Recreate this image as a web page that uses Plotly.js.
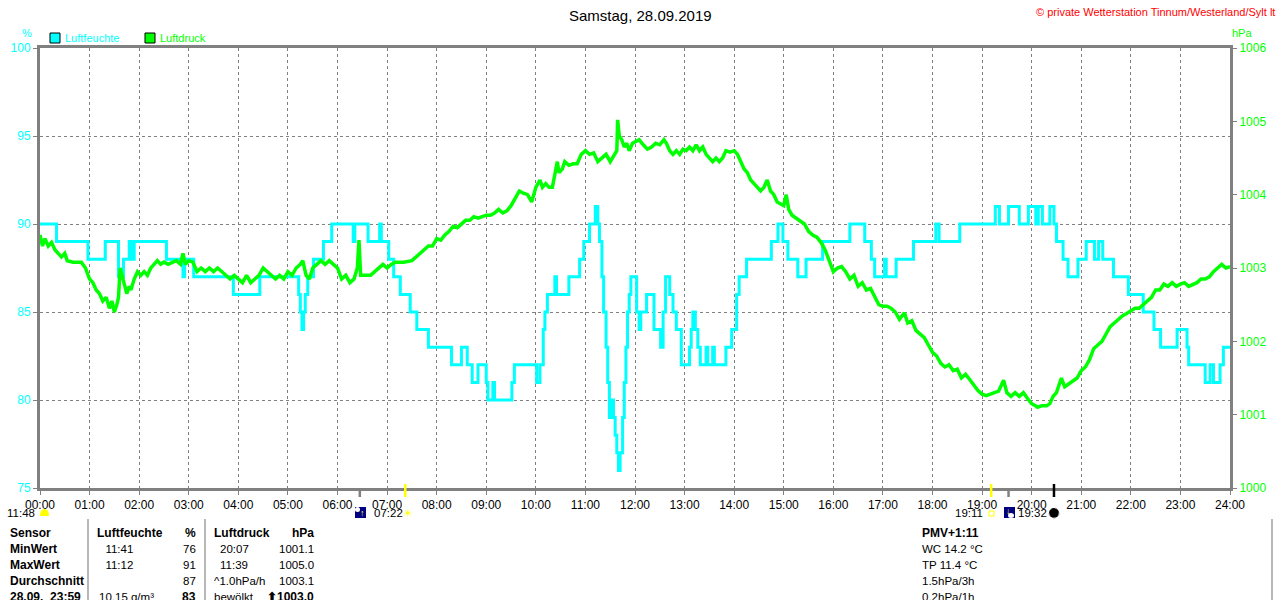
<!DOCTYPE html>
<html>
<head>
<meta charset="utf-8">
<script src="https://cdn.plot.ly/plotly-3.0.1.min.js"></script>
<style>
  html, body { margin: 0; padding: 0; background: #fff; }
  #chart { width: 1280px; height: 600px; }
</style>
</head>
<body>
<div id="chart"></div>
<script>
// ── Tagesgang Luftfeuchte / Luftdruck, Samstag 28.09.2019 ──

const xTickLabels = ['00:00','01:00','02:00','03:00','04:00','05:00','06:00','07:00','08:00',
    '09:00','10:00','11:00','12:00','13:00','14:00','15:00','16:00','17:00','18:00',
    '19:00','20:00','21:00','22:00','23:00','24:00'];
const humTicks = [75, 80, 85, 90, 95, 100];
const pressTicks = [1000, 1001, 1002, 1003, 1004, 1005, 1006];

// Luftfeuchte (%), Stufenwerte: Zeit = Beginn der Stufe
const humTimes = ['00:00','00:20','00:58','01:19','01:35','01:41','01:48','01:51','01:54','02:01',
    '02:33','02:53','02:55','03:06','03:54','04:26','05:13','05:15','05:17','05:19','05:21','05:24',
    '05:31','05:43','05:53','06:19','06:21','06:37','06:51','06:53','07:02','07:08','07:16','07:28',
    '07:36','07:50','08:18','08:30','08:37','08:43','08:50','09:00','09:02','09:08','09:10','09:31',
    '09:34','10:01','10:05','10:09','10:11','10:14','10:23','10:25','10:40','10:53','10:58','11:05',
    '11:12','11:15','11:17','11:20','11:22','11:25','11:27','11:29','11:31','11:34','11:36','11:38',
    '11:40','11:42','11:45','11:47','11:49','11:51','11:53','11:55','12:02','12:05','12:07','12:14',
    '12:23','12:31','12:34','12:37','12:42','12:46','12:50','12:56','13:06','13:08','13:10','13:13',
    '13:16','13:19','13:26','13:28','13:34','13:36','13:50','13:57','14:03','14:06','14:15','14:45',
    '14:53','14:59','15:05','15:17','15:27','15:47','16:20','16:38','16:46','16:50','17:02','17:04',
    '17:16','17:37','18:04','18:08','18:33','19:16','19:21','19:32','19:45','19:56','20:05','20:08',
    '20:13','20:22','20:27','20:30','20:38','20:44','20:56','21:06','21:16','21:21','21:26','21:39',
    '21:57','22:15','22:28','22:36','22:56','23:08','23:10','23:30','23:36','23:40','23:48','23:52',
    '24:00'];
const humVals = [90, 89, 88, 89, 87, 88, 89, 88, 89, 89,
    88, 87, 88, 87, 86, 87, 86, 85, 84, 85, 86, 87,
    88, 89, 90, 89, 90, 89, 90, 89, 88, 87, 86, 85,
    84, 83, 82, 83, 82, 81, 82, 81, 80, 81, 80, 81,
    82, 81, 82, 84, 85, 86, 87, 86, 87, 88, 89, 90,
    91, 90, 89, 87, 85, 83, 81, 79, 80, 79, 78, 77,
    76, 77, 79, 81, 83, 85, 86, 87, 85, 84, 85, 86,
    84, 83, 85, 87, 86, 85, 84, 82, 83, 84, 85, 84,
    83, 82, 83, 82, 83, 82, 83, 84, 86, 87, 88, 89,
    90, 89, 88, 87, 88, 89, 90, 89, 88, 87, 88, 87,
    88, 89, 90, 89, 90, 91, 90, 91, 90, 91, 90, 91,
    90, 91, 90, 89, 88, 87, 88, 89, 88, 89, 88, 87,
    86, 85, 84, 83, 84, 83, 82, 81, 82, 81, 82, 83,
    83];

// Luftdruck (hPa)
const pressTimes = ['00:00','00:03','00:06','00:10','00:14','00:18','00:22','00:26','00:30','00:33',
    '00:40','00:50','00:55','01:00','01:04','01:08','01:12','01:16','01:20','01:24','01:27','01:30',
    '01:33','01:35','01:37','01:39','01:42','01:45','01:48','01:50','01:54','01:58','02:02','02:06',
    '02:10','02:14','02:18','02:22','02:26','02:30','02:35','02:40','02:45','02:50','02:53','02:56',
    '03:00','03:05','03:10','03:15','03:20','03:25','03:30','03:35','03:40','03:45','03:50','03:55',
    '04:00','04:05','04:10','04:15','04:20','04:25','04:30','04:35','04:40','04:45','04:50','04:55',
    '05:00','05:05','05:10','05:15','05:18','05:22','05:26','05:30','05:35','05:40','05:45','05:50',
    '05:55','06:00','06:05','06:10','06:15','06:20','06:24','06:26','06:28','06:35','06:40','06:45',
    '06:50','06:55','07:00','07:05','07:10','07:20','07:30','07:35','07:40','07:45','07:50','07:55',
    '08:00','08:05','08:10','08:15','08:20','08:25','08:30','08:35','08:40','08:45','08:50','08:55',
    '09:00','09:05','09:10','09:15','09:20','09:25','09:30','09:35','09:40','09:45','09:50','09:55',
    '10:00','10:05','10:08','10:12','10:16','10:20','10:24','10:26','10:28','10:32','10:35','10:40',
    '10:45','10:50','10:55','11:00','11:05','11:10','11:15','11:20','11:25','11:30','11:35','11:38',
    '11:39','11:41','11:44','11:47','11:50','11:53','11:57','12:00','12:05','12:10','12:15','12:20',
    '12:25','12:30','12:35','12:38','12:42','12:46','12:50','12:54','12:58','13:02','13:06','13:10',
    '13:14','13:18','13:22','13:26','13:30','13:34','13:38','13:42','13:46','13:50','13:55','14:00',
    '14:04','14:08','14:12','14:16','14:20','14:24','14:28','14:32','14:36','14:40','14:44','14:48',
    '14:52','14:56','15:00','15:03','15:06','15:10','15:15','15:20','15:25','15:30','15:35','15:40',
    '15:45','15:50','15:55','16:00','16:05','16:10','16:15','16:20','16:25','16:30','16:35','16:40',
    '16:45','16:50','16:55','17:00','17:05','17:10','17:15','17:20','17:26','17:30','17:35','17:40',
    '17:45','17:50','17:55','18:00','18:05','18:10','18:15','18:20','18:25','18:30','18:35','18:40',
    '18:45','18:50','18:55','19:00','19:05','19:10','19:15','19:20','19:26','19:30','19:35','19:40',
    '19:45','19:50','19:55','20:00','20:05','20:07','20:12','20:18','20:22','20:26','20:30','20:36',
    '20:40','20:45','20:50','20:55','21:00','21:05','21:10','21:15','21:20','21:25','21:30','21:35',
    '21:40','21:45','21:50','21:55','22:00','22:05','22:10','22:15','22:20','22:25','22:30','22:35',
    '22:40','22:45','22:50','22:55','23:00','23:05','23:10','23:15','23:20','23:25','23:30','23:35',
    '23:40','23:45','23:50','23:55','24:00'];
const pressVals = [1003.45, 1003.30, 1003.40, 1003.30, 1003.35, 1003.25, 1003.20, 1003.15, 1003.20, 1003.10,
    1003.08, 1003.08, 1003.00, 1002.85, 1002.80, 1002.70, 1002.65, 1002.55, 1002.60, 1002.45, 1002.55, 1002.40,
    1002.50, 1002.60, 1003.00, 1002.90, 1002.80, 1002.65, 1002.75, 1002.70, 1002.85, 1002.95, 1002.90, 1002.95,
    1002.90, 1003.00, 1003.05, 1003.10, 1003.05, 1003.08, 1003.05, 1003.08, 1003.10, 1003.05, 1003.20, 1003.05,
    1003.10, 1003.08, 1002.95, 1003.00, 1002.95, 1003.00, 1002.95, 1003.00, 1002.95, 1002.90, 1002.85, 1002.90,
    1002.85, 1002.80, 1002.90, 1002.80, 1002.85, 1002.90, 1003.00, 1002.95, 1002.90, 1002.85, 1002.90, 1002.85,
    1002.95, 1002.90, 1003.00, 1003.05, 1003.10, 1002.90, 1002.85, 1003.00, 1003.05, 1003.10, 1003.05, 1003.10,
    1003.05, 1003.00, 1002.85, 1002.90, 1002.80, 1002.85, 1003.00, 1003.38, 1002.90, 1002.90, 1002.90, 1002.95,
    1003.00, 1003.05, 1003.00, 1003.05, 1003.08, 1003.08, 1003.10, 1003.15, 1003.20, 1003.25, 1003.30, 1003.30,
    1003.40, 1003.38, 1003.45, 1003.50, 1003.57, 1003.55, 1003.60, 1003.65, 1003.65, 1003.70, 1003.68, 1003.70,
    1003.72, 1003.72, 1003.75, 1003.80, 1003.75, 1003.78, 1003.85, 1003.95, 1004.05, 1004.02, 1004.00, 1003.90,
    1004.10, 1004.20, 1004.10, 1004.15, 1004.10, 1004.10, 1004.30, 1004.45, 1004.30, 1004.35, 1004.45, 1004.40,
    1004.42, 1004.42, 1004.55, 1004.60, 1004.55, 1004.57, 1004.45, 1004.50, 1004.55, 1004.45, 1004.55, 1004.60,
    1005.02, 1004.80, 1004.75, 1004.65, 1004.70, 1004.60, 1004.70, 1004.72, 1004.75, 1004.68, 1004.62, 1004.65,
    1004.70, 1004.68, 1004.75, 1004.70, 1004.60, 1004.55, 1004.60, 1004.55, 1004.62, 1004.60, 1004.65, 1004.60,
    1004.68, 1004.60, 1004.65, 1004.55, 1004.50, 1004.45, 1004.50, 1004.45, 1004.50, 1004.60, 1004.58, 1004.60,
    1004.55, 1004.45, 1004.35, 1004.30, 1004.20, 1004.15, 1004.10, 1004.05, 1004.10, 1004.20, 1004.05, 1004.00,
    1003.90, 1003.88, 1003.85, 1004.00, 1003.80, 1003.72, 1003.68, 1003.65, 1003.60, 1003.50, 1003.45, 1003.42,
    1003.35, 1003.25, 1003.10, 1002.95, 1003.00, 1003.02, 1002.95, 1002.85, 1002.90, 1002.75, 1002.80, 1002.70,
    1002.72, 1002.60, 1002.50, 1002.48, 1002.48, 1002.45, 1002.40, 1002.30, 1002.39, 1002.25, 1002.28, 1002.15,
    1002.10, 1002.05, 1001.95, 1001.85, 1001.80, 1001.70, 1001.65, 1001.68, 1001.60, 1001.62, 1001.50, 1001.55,
    1001.48, 1001.40, 1001.33, 1001.28, 1001.26, 1001.28, 1001.30, 1001.32, 1001.47, 1001.30, 1001.25, 1001.30,
    1001.25, 1001.30, 1001.22, 1001.15, 1001.12, 1001.10, 1001.12, 1001.12, 1001.15, 1001.25, 1001.30, 1001.50,
    1001.38, 1001.42, 1001.45, 1001.50, 1001.60, 1001.65, 1001.75, 1001.90, 1001.95, 1002.00, 1002.10, 1002.20,
    1002.25, 1002.30, 1002.35, 1002.38, 1002.42, 1002.45, 1002.45, 1002.50, 1002.55, 1002.60, 1002.70, 1002.70,
    1002.78, 1002.75, 1002.80, 1002.75, 1002.78, 1002.80, 1002.75, 1002.78, 1002.80, 1002.85, 1002.85, 1002.88,
    1002.95, 1003.00, 1003.05, 1003.00, 1003.02];

// Sonnen-/Mondereignisse (Dämmerung, Aufgang, Untergang, Dämmerung, Mond)
const eventTimes = ['06:27', '07:22', '19:11', '19:32', '20:27'];

// Tabellen-Spalten unter dem Diagramm
const tableLabels = ['Sensor', 'MinWert', 'MaxWert', 'Durchschnitt', '28.09.  23:59'];
const humTimeCol  = ['Luftfeuchte', '11:41', '11:12', '', '10.15 g/m³'];
const humValCol   = ['%', '76', '91', '87', '83'];
const pressTimeCol = ['Luftdruck', '20:07', '11:39', '^1.0hPa/h', 'bewölkt'];
const pressValCol  = ['hPa', '1001.1', '1005.0', '1003.1', '⬆1003.0'];
const extraCol     = ['PMV+1:11', 'WC 14.2 °C', 'TP 11.4 °C', '1.5hPa/3h', '0.2hPa/1h'];

// ── helpers ──
const toH = s => { const [h, m] = s.split(':').map(Number); return h + m / 60; };
const PL = 40, PR = 1230, PT = 48, PB = 488;
const px = x => (x - PL) / (PR - PL);     // pixel → paper
const py = y => (PB - y) / (PB - PT);
const FONT = 'Liberation Sans, Arial, sans-serif';
const GRAY = '#808080';
const CYAN = '#00FFFF', GREEN = '#00FF00';

const annotations = [];
const shapes = [];
function txt(x, y, text, opts = {}) {
    annotations.push({
        xref: 'paper', yref: 'paper', x: px(x), y: py(y), text, showarrow: false,
        xanchor: opts.anchor || 'left', yanchor: 'middle',
        font: { family: FONT, size: opts.size || 11.5, color: opts.color || '#000' }
    });
}

// Titel & Copyright
txt(640, 15, 'Samstag, 28.09.2019', { anchor: 'center', size: 15 });
txt(1277, 12, '© private Wetterstation Tinnum/Westerland/Sylt lt', { anchor: 'right', size: 11, color: '#FF0000' });
// Achseneinheiten
txt(27, 33, '%', { anchor: 'center', size: 11, color: CYAN });
txt(1230, 33, 'hPa', { size: 11, color: GREEN });
// Legende
shapes.push({ type: 'rect', xref: 'paper', yref: 'paper', x0: px(50), x1: px(60), y0: py(43), y1: py(33),
    fillcolor: CYAN, line: { color: '#000', width: 1 } });
txt(63, 38, 'Luftfeuchte', { size: 11, color: CYAN });
shapes.push({ type: 'rect', xref: 'paper', yref: 'paper', x0: px(145), x1: px(155), y0: py(43), y1: py(33),
    fillcolor: GREEN, line: { color: '#000', width: 1 } });
txt(158, 38, 'Luftdruck', { size: 11, color: GREEN });

// Ereignis-Striche unter der x-Achse
const eventColors = [GRAY, '#FFFF00', '#FFFF00', GRAY, '#000000'];
const eventTop = [488, 484, 484, 488, 484];
eventTimes.forEach((t, i) => {
    shapes.push({ type: 'line', xref: 'x', yref: 'paper', x0: toH(t), x1: toH(t),
        y0: py(eventTop[i]), y1: py(497), line: { color: eventColors[i], width: 2.5 } });
});

// Zeilen unter den Achsenbeschriftungen
txt(37, 513, '11:48', { anchor: 'right', size: 11.5 });
shapes.push({ type: 'path', xref: 'paper', yref: 'paper',
    path: `M ${px(40)},${py(516)} Q ${px(40)},${py(509)} ${px(44.5)},${py(509)} Q ${px(49)},${py(509)} ${px(49)},${py(516)} Z`,
    fillcolor: '#FFFF00', line: { color: '#FFFF00', width: 0 } });
// Dämmerungs-Symbol morgens
shapes.push({ type: 'rect', xref: 'paper', yref: 'paper', x0: px(355), x1: px(366), y0: py(518), y1: py(507),
    fillcolor: '#000080', line: { width: 0 } });
shapes.push({ type: 'circle', xref: 'paper', yref: 'paper', x0: px(355), x1: px(360), y0: py(512), y1: py(507),
    fillcolor: '#FFFFFF', line: { width: 0 } });
txt(362, 513, '↑', { anchor: 'center', size: 9, color: '#FFFF00' });
txt(372, 513, '07:22', { size: 11.5 });
txt(408, 513, '☀', { anchor: 'center', size: 11, color: '#FFFF00' });
// abends
txt(985, 513, '19:11', { anchor: 'right', size: 11.5 });
shapes.push({ type: 'rect', xref: 'paper', yref: 'paper', x0: px(989), x1: px(994), y0: py(516), y1: py(511),
    fillcolor: 'rgba(0,0,0,0)', line: { color: '#FFFF00', width: 1 } });
shapes.push({ type: 'rect', xref: 'paper', yref: 'paper', x0: px(1004), x1: px(1015), y0: py(518), y1: py(507),
    fillcolor: '#000080', line: { width: 0 } });
shapes.push({ type: 'circle', xref: 'paper', yref: 'paper', x0: px(1008), x1: px(1014), y0: py(518), y1: py(513),
    fillcolor: '#FFFFFF', line: { width: 0 } });
txt(1008, 511, '↓', { anchor: 'center', size: 9, color: '#FFFF00' });
txt(1016, 513, '19:32', { size: 11.5 });
shapes.push({ type: 'circle', xref: 'paper', yref: 'paper', x0: px(1049), x1: px(1059), y0: py(518), y1: py(508),
    fillcolor: '#000', line: { color: '#999', width: 1, dash: 'dot' } });

// Tabelle
const rowY = [533, 549, 565, 581, 597];
const boldRow = i => i === 0;
rowY.forEach((y, i) => {
    const b = s => s ? `<b>${s}</b>` : '';
    txt(8, y, b(tableLabels[i]), { size: 12 });
    txt(i === 0 ? 95 : 97, y, i === 0 ? b(humTimeCol[i]) : (i < 4 ? '  ' + humTimeCol[i] : humTimeCol[i]), { size: i === 0 ? 12 : 11.5 });
    txt(198, y, (boldRow(i) || i === 4) ? b(humValCol[i]) : humValCol[i], { anchor: 'right', size: boldRow(i) || i === 4 ? 12 : 11.5 });
    txt(i === 0 || i >= 3 ? 212 : 218, y, i === 0 ? b(pressTimeCol[i]) : pressTimeCol[i], { size: i === 0 ? 12 : 11.5 });
    txt(316, y, (boldRow(i) || i === 4) ? b(pressValCol[i]) : pressValCol[i], { anchor: 'right', size: boldRow(i) || i === 4 ? 12 : 11.5 });
    txt(920, y, i === 0 ? b(extraCol[i]) : extraCol[i], { size: i === 0 ? 12 : 11.5 });
});
[88, 205, 1272].forEach(x => {
    shapes.push({ type: 'line', xref: 'paper', yref: 'paper', x0: px(x), x1: px(x), y0: py(519), y1: py(600),
        line: { color: '#A0A0A0', width: 1.5 } });
});

const data = [
    { x: humTimes.map(toH), y: humVals, type: 'scatter', mode: 'lines', name: 'Luftfeuchte',
      line: { color: CYAN, width: 3, shape: 'hv' }, yaxis: 'y', hoverinfo: 'skip' },
    { x: pressTimes.map(toH), y: pressVals, type: 'scatter', mode: 'lines', name: 'Luftdruck',
      line: { color: GREEN, width: 3.5 }, yaxis: 'y2', hoverinfo: 'skip' }
];

const layout = {
    width: 1280, height: 600,
    margin: { l: PL, r: 1280 - PR, t: PT, b: 600 - PB },
    paper_bgcolor: '#fff', plot_bgcolor: '#fff',
    showlegend: false,
    font: { family: FONT, size: 11.5, color: '#000' },
    xaxis: {
        range: [0, 24], tickvals: xTickLabels.map(toH), ticktext: xTickLabels,
        showgrid: true, gridcolor: GRAY, gridwidth: 1, griddash: '3px,3px',
        showline: true, linecolor: GRAY, linewidth: 3, mirror: true,
        ticks: 'outside', ticklen: 4, tickcolor: GRAY, tickwidth: 1,
        tickfont: { family: FONT, size: 12, color: '#000' }, zeroline: false, fixedrange: true
    },
    yaxis: {
        range: [75, 100], tickvals: humTicks, ticktext: humTicks.map(String),
        showgrid: true, gridcolor: GRAY, gridwidth: 1, griddash: '3px,3px',
        showline: true, linecolor: GRAY, linewidth: 3,
        ticks: 'outside', ticklen: 4, tickcolor: GRAY, tickwidth: 1,
        tickfont: { family: FONT, size: 12, color: CYAN }, zeroline: false, fixedrange: true
    },
    yaxis2: {
        range: [1000, 1006], tickvals: pressTicks, ticktext: pressTicks.map(String),
        overlaying: 'y', side: 'right', showgrid: false,
        showline: true, linecolor: GRAY, linewidth: 3,
        ticks: 'outside', ticklen: 4, tickcolor: GRAY, tickwidth: 1,
        tickfont: { family: FONT, size: 12, color: GREEN }, zeroline: false, fixedrange: true
    },
    shapes, annotations
};

Plotly.newPlot('chart', data, layout, { staticPlot: true, displayModeBar: false });
</script>
</body>
</html>
